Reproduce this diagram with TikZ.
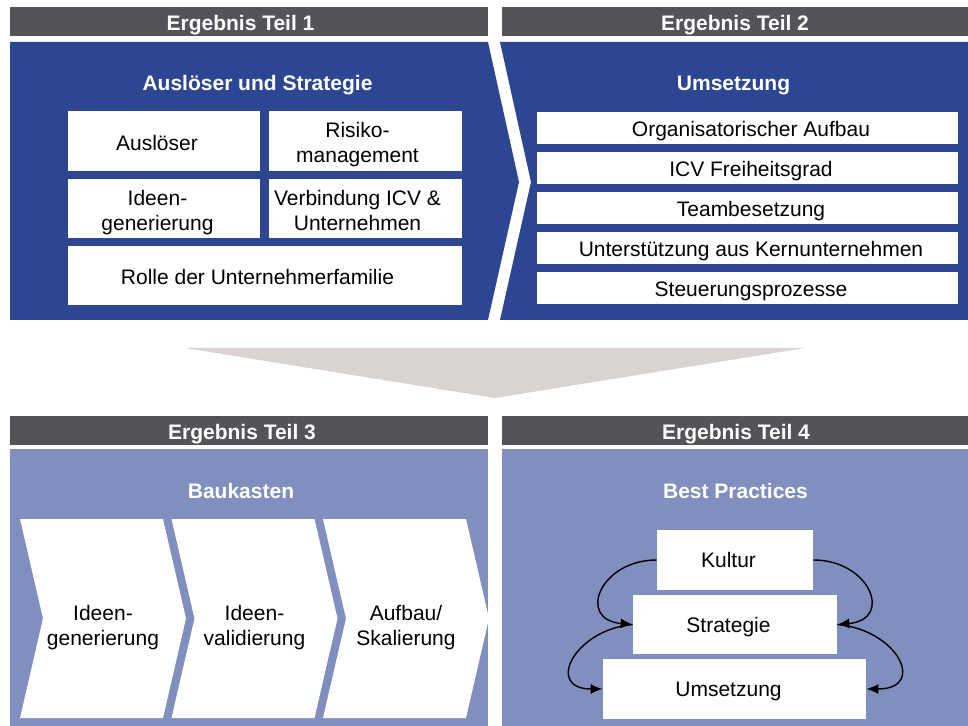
\documentclass[tikz,border=0pt]{standalone}
\usepackage{fontspec}
\setmainfont{Liberation Sans}
\usepackage{tikz}
\usetikzlibrary{arrows.meta}
\definecolor{headgray}{RGB}{83,84,88}
\definecolor{darkblue}{RGB}{44,70,146}
\definecolor{lightblue}{RGB}{128,143,190}
\definecolor{funnelgray}{RGB}{217,211,209}
\tikzstyle{headtext}=[text=white, inner sep=0pt, font=\fontsize{10.5}{12.5}\selectfont\bfseries, text height=7.52pt, text depth=0pt]
\tikzstyle{box}=[fill=white, inner sep=0pt]
\tikzstyle{boxtext}=[align=center, inner sep=0pt, font=\fontsize{10.5}{12.5}\selectfont, text height=7.52pt, text depth=0pt]
\tikzstyle{boxtexttwo}=[boxtext, text height=20.02pt]
\tikzstyle{swing}=[draw, line width=0.7pt, -{Latex[length=6pt,width=5pt]}, looseness=2.1]

\begin{document}
\begin{tikzpicture}[x=0.5pt, y=-0.5pt]

    \useasboundingbox (0,0) rectangle (968,726);

    % header bars
    \foreach \xa/\xb/\ya/\xt/\name/\txt in {10/488/7/240.5/head1/Ergebnis Teil 1, 502/968/7/735/head2/Ergebnis Teil 2,
                                           10/488/416/242/head3/Ergebnis Teil 3, 502/968/416/736/head4/Ergebnis Teil 4} {
        \fill[headgray] (\xa,\ya) rectangle (\xb,\ya+29);
        \node[headtext] (\name) at (\xt,\ya+16) {\txt};
    }

    % panels
    \fill[darkblue] (10,42) -- (488,42) -- (519,182) -- (488,320) -- (10,320) -- cycle;
    \fill[darkblue] (500,42) -- (968,42) -- (968,320) -- (500,320) -- (531,182) -- cycle;
    \fill[funnelgray] (185,348) -- (805,348) -- (495,398) -- cycle;
    \fill[lightblue] (10,449) rectangle (488,726);
    \fill[lightblue] (502,449) rectangle (968,726);

    \node[headtext] (strat) at (257.5,82.5) {Auslöser und Strategie};
    \node[headtext] (umset) at (733.5,83) {Umsetzung};
    \node[headtext] (bauk) at (241,491) {Baukasten};
    \node[headtext] (best) at (735.5,491) {Best Practices};

    % Teil 1
    \foreach \x/\y/\w/\h/\name in {164/141/96/30/ausl, 365.5/141/96.5/30/risk, 164/208.5/96/29.5/gen,
                                   365.5/208.5/96.5/29.5/icv, 265/275.5/197/29.5/fam}
        \node[box, minimum width=\w pt, minimum height=\h pt] (\name) at (\x,\y) {};

    \foreach \name/\dx/\txt in {ausl/-7/Ausl\"oser, fam/-7.5/Rolle der Unternehmerfamilie}
        \node[boxtext] (\name-t) at ([shift={(\dx,1.5)}]\name.center) {\txt};
    \foreach \name/\dx/\txt in {risk/-8/{Risiko-\\management}, gen/-6.5/{Ideen-\\generierung}, icv/-8/{Verbindung ICV \&\\Unternehmen}}
        \node[boxtexttwo] (\name-t) at ([shift={(\dx,1.5)}]\name.center) {\txt};

    % Teil 2
    \foreach \y/\name/\txt in {128/org/Organisatorischer Aufbau, 168/frei/ICV Freiheitsgrad, 208/team/Teambesetzung,
                              248/kern/Unterst\"utzung aus Kernunternehmen, 288/steu/Steuerungsprozesse} {
        \node[box, minimum width=210.5pt, minimum height=16pt] (\name) at (747.5,\y) {};
        \node[boxtext] (\name-t) at ([shift={(3.5,1)}]\name.center) {\txt};
    }

    % Teil 3
    \foreach \x/\name/\txt in {20/bau1/{Ideen-\\generierung}, 171.5/bau2/{Ideen-\\validierung}, 323/bau3/{Aufbau/\\Skalierung}} {
        \fill[white] (\x,519) -- ++(143,0) -- ++(23,99.5) -- ++(-23,99.5) -- ++(-143,0) -- ++(23,-99.5) -- cycle;
        \node[boxtexttwo] (\name) at (\x+83,625.7) {\txt};
    }

    % Teil 4
    \node[box, minimum width=78pt, minimum height=30pt] (kultur) at (735,560) {};
    \node[box, minimum width=102pt, minimum height=29.5pt] (strategie) at (735,624.5) {};
    \node[box, minimum width=131.5pt, minimum height=30pt] (umsetzung) at (734.5,689) {};
    \node[boxtext] (kultur-t) at ([xshift=-3.25pt]kultur.center) {Kultur};
    \node[boxtext] (strategie-t) at ([xshift=-3.25pt]strategie.center) {Strategie};
    \node[boxtext] (umsetzung-t) at ([xshift=-3pt]umsetzung.center) {Umsetzung};

    \draw[swing] (kultur.west) to[out=180, in=175] (strategie.west);
    \draw[swing] (strategie.west) to[out=185, in=180] (umsetzung.west);
    \draw[swing] (kultur.east) to[out=0, in=5] (strategie.east);
    \draw[swing, looseness=2.2] (strategie.east) to[out=355, in=0] (umsetzung.east);

\end{tikzpicture}
\end{document}
